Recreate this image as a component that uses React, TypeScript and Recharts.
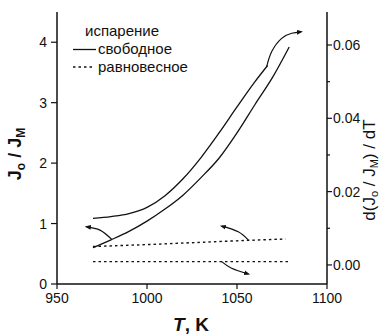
import React from 'react';
import { LineChart, Line, XAxis, YAxis } from 'recharts';

// ---- axes ----
const tempTicks = [950, 1000, 1050, 1100];
const ratioTicks = [0, 1, 2, 3, 4];
const derivTicks = [0, 0.01, 0.02, 0.03, 0.04, 0.05, 0.06];

// ---- free evaporation: J0/JM (left axis) ----
const freeT = [970, 980, 990, 1000, 1010, 1020, 1030, 1040, 1050, 1060, 1070, 1079];
const freeRatio = [0.6, 0.73, 0.87, 1.04, 1.24, 1.47, 1.76, 2.08, 2.5, 2.97, 3.43, 3.92];

// ---- free evaporation: d(J0/JM)/dT (right axis) ----
const freeDerivT = [970, 980, 990, 1000, 1010, 1020, 1030, 1040, 1050, 1060, 1067];
const freeDeriv = [0.0127, 0.0132, 0.014, 0.0157, 0.0189, 0.0235, 0.0293, 0.036, 0.0431, 0.05, 0.0544];

// ---- equilibrium evaporation ----
const eqT = [970, 1003, 1030, 1054, 1077];
const eqRatio = [0.62, 0.655, 0.69, 0.72, 0.745];
const eqDerivT = [970, 1025, 1079];
const eqDeriv = [0.0009, 0.0009, 0.0009];

// ---- arrows pointing to the axis of each curve ----
const arrowLeftT = [966.5, 973.9, 980.4];
const arrowLeftY = [0.946, 0.891, 0.738];
const arrowMidT = [1041.5, 1050.7, 1056.3];
const arrowMidY = [0.957, 0.863, 0.726];
const arrowTopT = [1066.5, 1069.3, 1074.8, 1080.4, 1085.6];
const arrowTopY = [0.0541, 0.0582, 0.0618, 0.0632, 0.0636];
const arrowLowT = [1041.5, 1047, 1056.3];
const arrowLowY = [0.0009, -0.0009, -0.00245];

const toPoints = (xs: number[], ys: number[]) => xs.map((t, i) => ({ t, y: ys[i] }));

const FONT = '"Liberation Sans", Arial, sans-serif';
const INK = '#111';

const RightTick = (props: any) => {
  const { x, y, payload } = props;
  const v: number = payload.value;
  const major = Math.round(v * 100) % 2 === 0;
  const ax = x - 6;
  return (
    <g>
      <line x1={ax} x2={ax + (major ? 5 : 3)} y1={y} y2={y} stroke={INK} strokeWidth={1.2} />
      {major && (
        <text x={x} y={y} dy="0.36em" textAnchor="start" fill={INK} fontSize={14} fontFamily={FONT}>
          {v.toFixed(2)}
        </text>
      )}
    </g>
  );
};

const LeftTitle = () => (
  <text
    x={21}
    y={154}
    transform="rotate(-90, 21, 154)"
    textAnchor="middle"
    fill={INK}
    fontSize={18}
    fontWeight="bold"
    fontFamily={FONT}>
    J<tspan fontSize={12} dy={4}>o</tspan>
    <tspan dy={-4}> / J</tspan>
    <tspan fontSize={12} dy={4}>M</tspan>
  </text>
);

const RightTitle = () => (
  <text
    x={375}
    y={170}
    transform="rotate(-90, 375, 170)"
    textAnchor="middle"
    fill={INK}
    fontSize={17}
    fontFamily={FONT}>
    d(J<tspan fontSize={11} dy={3}>o</tspan>
    <tspan dy={-3}> / J</tspan>
    <tspan fontSize={11} dy={3}>M</tspan>
    <tspan dy={-3}>) / dT</tspan>
  </text>
);

const BottomTitle = () => (
  <text x={191} y={331} textAnchor="middle" fill={INK} fontSize={19} fontWeight="bold" fontFamily={FONT}>
    <tspan fontStyle="italic">T</tspan>, K
  </text>
);

export default function App() {
  const lineProps = { dot: false, isAnimationActive: false, stroke: INK, xAxisId: 'x' } as const;
  return (
    <div style={{ position: 'absolute', left: 0, top: 0, width: 381, height: 334 }}>
      <LineChart width={381} height={334} margin={{ top: 12, right: 0, bottom: 0, left: 0 }}>
        <defs>
          <marker
            id="head"
            viewBox="0 0 10 10"
            refX="7"
            refY="5"
            markerWidth="5"
            markerHeight="5"
            orient="auto-start-reverse">
            <path d="M0,1 L10,5 L0,9 z" fill={INK} />
          </marker>
        </defs>
        <XAxis
          xAxisId="x"
          dataKey="t"
          type="number"
          domain={[950, 1100]}
          ticks={tempTicks}
          interval={0}
          height={50}
          tickSize={5}
          tickMargin={4}
          axisLine={{ stroke: INK, strokeWidth: 1.5 }}
          tickLine={{ stroke: INK, strokeWidth: 1.2 }}
          tick={{ fill: INK, fontSize: 14, fontFamily: FONT }}
          label={<BottomTitle />}
        />
        <XAxis
          xAxisId="top"
          orientation="top"
          type="number"
          domain={[950, 1100]}
          height={0}
          tick={false}
          tickLine={false}
          axisLine={{ stroke: INK, strokeWidth: 1.5 }}
        />
        <YAxis
          yAxisId="ratio"
          type="number"
          domain={[0, 4.5]}
          ticks={ratioTicks}
          interval={0}
          width={57}
          tickSize={6}
          tickMargin={4}
          axisLine={{ stroke: INK, strokeWidth: 1.5 }}
          tickLine={{ stroke: INK, strokeWidth: 1.2 }}
          tick={{ fill: INK, fontSize: 14, fontFamily: FONT }}
          label={<LeftTitle />}
        />
        <YAxis
          yAxisId="deriv"
          orientation="right"
          type="number"
          domain={[-0.0052, 0.069]}
          ticks={derivTicks}
          interval={0}
          width={54}
          tickSize={4}
          tickMargin={2}
          axisLine={{ stroke: INK, strokeWidth: 1.5 }}
          tickLine={false}
          tick={<RightTick />}
          label={<RightTitle />}
        />

        <Line {...lineProps} yAxisId="ratio" data={toPoints(freeT, freeRatio)} dataKey="y" type="monotone" strokeWidth={1.3} />
        <Line {...lineProps} yAxisId="deriv" data={toPoints(freeDerivT, freeDeriv)} dataKey="y" type="monotone" strokeWidth={1.3} />
        <Line {...lineProps} yAxisId="ratio" data={toPoints(eqT, eqRatio)} dataKey="y" type="linear" strokeWidth={1.4} strokeDasharray="2.5 3" />
        <Line {...lineProps} yAxisId="deriv" data={toPoints(eqDerivT, eqDeriv)} dataKey="y" type="linear" strokeWidth={1.4} strokeDasharray="2.5 3" />

        <Line {...lineProps} yAxisId="ratio" data={toPoints(arrowLeftT, arrowLeftY)} dataKey="y" type="natural" strokeWidth={1.2} markerStart="url(#head)" />
        <Line {...lineProps} yAxisId="ratio" data={toPoints(arrowMidT, arrowMidY)} dataKey="y" type="natural" strokeWidth={1.2} markerStart="url(#head)" />
        <Line {...lineProps} yAxisId="deriv" data={toPoints(arrowTopT, arrowTopY)} dataKey="y" type="natural" strokeWidth={1.2} markerEnd="url(#head)" />
        <Line {...lineProps} yAxisId="deriv" data={toPoints(arrowLowT, arrowLowY)} dataKey="y" type="natural" strokeWidth={1.2} markerEnd="url(#head)" />
      </LineChart>

      <div
        style={{
          position: 'absolute',
          left: 72,
          top: 22,
          fontFamily: FONT,
          fontSize: 15,
          lineHeight: '18px',
          color: INK,
        }}>
        <div style={{ paddingLeft: 13 }}>испарение</div>
        <div style={{ display: 'flex', alignItems: 'center' }}>
          <svg width={26} height={18}>
            <line x1={1} x2={24} y1={9.5} y2={9.5} stroke={INK} strokeWidth={1.3} />
          </svg>
          <span>свободное</span>
        </div>
        <div style={{ display: 'flex', alignItems: 'center' }}>
          <svg width={26} height={18}>
            <line x1={1} x2={23} y1={9} y2={9} stroke={INK} strokeWidth={1.4} strokeDasharray="2.5 3" />
          </svg>
          <span>равновесное</span>
        </div>
      </div>
    </div>
  );
}
